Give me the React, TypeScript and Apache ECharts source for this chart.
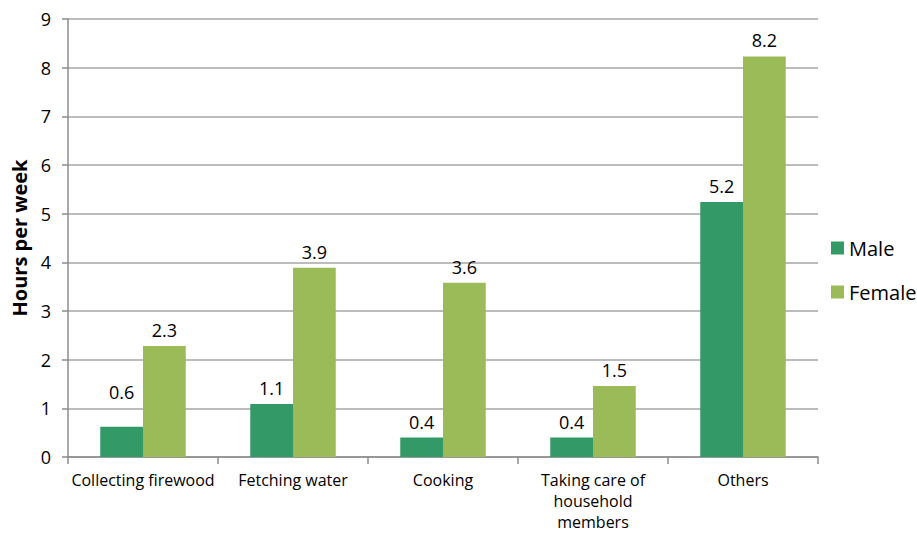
import React, { useEffect, useRef } from "react";
import * as echarts from "echarts";

const categories = [
  "Collecting firewood",
  "Fetching water",
  "Cooking",
  "Taking care of\nhousehold\nmembers",
  "Others",
];
const maleValues = [0.62, 1.09, 0.4, 0.4, 5.24];
const femaleValues = [2.28, 3.89, 3.58, 1.46, 8.23];
const yTicks = { min: 0, max: 9, interval: 1 };

const FONT = "'Open Sans', 'Liberation Sans', sans-serif";

export default function App() {
  const ref = useRef<HTMLDivElement>(null);
  useEffect(() => {
    if (!ref.current) return;
    const chart = echarts.init(ref.current, undefined, { renderer: "svg" });
    const label = {
      show: true,
      position: "top",
      distance: 7,
      fontSize: 18,
      color: "#000",
      fontFamily: FONT,
      formatter: (p: any) => Number(p.value).toFixed(1),
    };
    // the first male label sits higher in the reference
    const maleData = maleValues.map((v, i) =>
      i === 0 ? { value: v, label: { distance: 26 } } : v
    );
    chart.setOption({
      animation: false,
      textStyle: { fontFamily: FONT },
      grid: {
        left: 68,
        right: 99,
        top: 19,
        bottom: 76,
        containLabel: false,
        outerBoundsMode: "none",
      },
      legend: {
        orient: "vertical",
        left: 826,
        top: 233,
        itemWidth: 13,
        itemHeight: 13,
        itemGap: 24,
        icon: "rect",
        textStyle: { fontSize: 20, color: "#000", fontFamily: FONT, lineHeight: 20 },
        data: ["Male", "Female"],
      },
      xAxis: {
        type: "category",
        data: categories,
        axisLine: { lineStyle: { color: "#8c8c8c", width: 1.5 } },
        axisTick: { show: true, length: 7, lineStyle: { color: "#8c8c8c", width: 1.5 } },
        axisLabel: {
          fontSize: 16,
          color: "#000",
          fontFamily: FONT,
          lineHeight: 21,
          margin: 12,
          interval: 0,
        },
      },
      yAxis: {
        type: "value",
        min: yTicks.min,
        max: yTicks.max,
        interval: yTicks.interval,
        name: "Hours per week",
        nameLocation: "middle",
        nameGap: 38,
        nameTextStyle: { fontSize: 20, fontWeight: "bold", color: "#000", fontFamily: FONT },
        axisLine: { show: true, lineStyle: { color: "#8c8c8c", width: 1.5 } },
        axisTick: { show: true, length: 6, lineStyle: { color: "#8c8c8c", width: 1.5 } },
        axisLabel: { fontSize: 18, color: "#000", fontFamily: FONT, margin: 17 },
        splitLine: { show: true, lineStyle: { color: "#a6a6a6", width: 1.5 } },
      },
      series: [
        {
          name: "Male",
          type: "bar",
          data: maleData,
          barGap: "0%",
          barCategoryGap: "43%",
          itemStyle: { color: "#339966" },
          label,
        },
        {
          name: "Female",
          type: "bar",
          data: femaleValues,
          barGap: "0%",
          barCategoryGap: "43%",
          itemStyle: { color: "#9bbb59" },
          label,
        },
      ],
    });
    return () => chart.dispose();
  }, []);
  return <div ref={ref} style={{ width: 917, height: 533, position: "absolute", left: 0, top: 0 }} />;
}
